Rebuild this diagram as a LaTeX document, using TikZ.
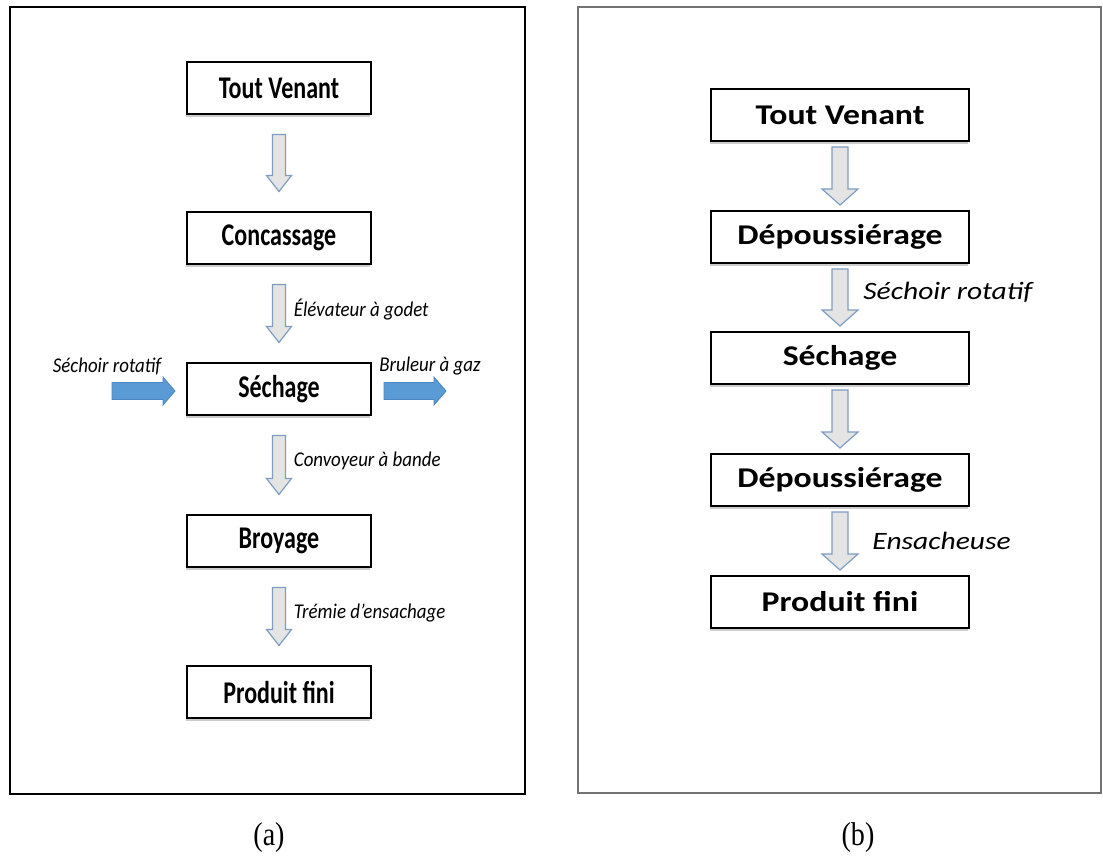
\documentclass[tikz,border=0pt]{standalone}
\usepackage{fontspec}
\setmainfont{Liberation Serif}
\newfontfamily\narrowcal[FakeStretch=0.76]{Carlito}
\newfontfamily\narrowcalit[FakeStretch=0.9]{Carlito}
\newfontfamily\widecal[FakeStretch=1.18]{Carlito}
\newfontfamily\capserif[FakeStretch=0.85]{Liberation Serif}
\usepackage{tikz}
\usetikzlibrary{calc,shadows}
\usepackage{xcolor}
\definecolor{arrowgray}{HTML}{E4E4E4}
\definecolor{arrowedge}{HTML}{7F9DC1}
\definecolor{sideblue}{HTML}{5B9BD5}
\definecolor{sideedge}{HTML}{4A86C0}

% block arrow from box #1 down to box #2, gap #3, shaft half width #4, head half width #5
\newcommand{\blockdown}[5]{%
  \path ($(#1.south)+(0,#3)$) coordinate (top) ($(#2.north)+(0,-#3)$) coordinate (tip);
  \draw[flow] ($(top)+(-#4,0)$) -- ($(tip)+(-#4,-16)$) -- ($(tip)+(-#5,-16)$) -- (tip)
    -- ($(tip)+(#5,-16)$) -- ($(tip)+(#4,-16)$) -- ($(top)+(#4,0)$) -- cycle;
}
% blue arrow from #1 to #2 (horizontal)
\newcommand{\blockright}[2]{%
  \draw[side] ($(#1)+(0,-8.5)$) -- ($(#2)+(-12,-8.5)$) -- ($(#2)+(-12,-14)$) -- (#2)
    -- ($(#2)+(-12,14)$) -- ($(#2)+(-12,8.5)$) -- ($(#1)+(0,8.5)$) -- cycle;
}

\begin{document}
\begin{tikzpicture}[x=0.5pt,y=-0.5pt,
    boxL/.style={draw, line width=1pt, fill=white, minimum width=92pt, minimum height=26pt,
      inner sep=0pt, font=\narrowcal\bfseries\fontsize{15.8}{18}\selectfont,
      drop shadow={shadow xshift=-0.6pt, shadow yshift=-1.3pt, opacity=0.4}},
    boxR/.style={boxL, minimum width=129pt, font=\widecal\bfseries\fontsize{14.3}{16}\selectfont},
    labL/.style={anchor=west, inner sep=0pt, font=\narrowcalit\itshape\fontsize{10.5}{12}\selectfont},
    labR/.style={anchor=west, inner sep=0pt, font=\widecal\itshape\fontsize{12.5}{14}\selectfont},
    flow/.style={fill=arrowgray, draw=arrowedge, line width=0.6pt, line join=miter},
    side/.style={fill=sideblue, draw=sideedge, line width=0.4pt},
    caption/.style={font=\capserif\fontsize{16.5}{18}\selectfont, inner sep=0pt}]

    \useasboundingbox[fill=white] (0,0) rectangle (1103,857);

    % panel (a)
    \draw[line width=1pt] (10,7) rectangle (525,794);
    \node[boxL] (tv1) at (279,88) {Tout Venant};
    \node[boxL] at ($(tv1)+(0,150)$) (conc1) {Concassage};
    \node[boxL] at ($(conc1)+(0,151)$) (sech1) {Séchage};
    \node[boxL] at ($(sech1)+(0,152)$) (broy1) {Broyage};
    \node[boxL] at ($(broy1)+(0,151)$) (pf1) {Produit fini};

    \blockdown{tv1}{conc1}{19.5}{6.5}{12.5}
    \blockdown{conc1}{sech1}{19.5}{6.5}{12.5}
    \blockdown{sech1}{broy1}{19.5}{6.5}{12.5}
    \blockdown{broy1}{pf1}{19.5}{6.5}{12.5}

    \node[labL] (elev) at ($(conc1.south)!0.5!(sech1.north)+(14.5,-4)$) {Élévateur à godet};
    \node[labL] (conv) at ($(sech1.south)!0.5!(broy1.north)+(14.5,-4)$) {Convoyeur à bande};
    \node[labL] (trem) at ($(broy1.south)!0.5!(pf1.north)+(14.5,-4)$) {Trémie d’ensachage};

    \coordinate (in1) at (112,391);
    \coordinate (out1) at (446,391);
    \blockright{in1}{$(sech1.west |- in1)+(-11,0)$}
    \blockright{$(sech1.east |- out1)+(12,0)$}{out1}
    \node[labL, anchor=center] (sroT) at (107,366) {Séchoir rotatif};
    \node[labL, anchor=center] (brul) at (430,366) {Bruleur à gaz};

    \node[caption] (capa) at (269,838) {(a)};

    % panel (b)
    \draw[line width=0.8pt, black!55] (578,7) rectangle (1101,793);
    \node[boxR] (tv2) at (840,115) {Tout Venant};
    \node[boxR] at ($(tv2)+(0,122)$) (dep2) {Dépoussiérage};
    \node[boxR] at ($(dep2)+(0,121)$) (sech2) {Séchage};
    \node[boxR] at ($(sech2)+(0,122)$) (dep3) {Dépoussiérage};
    \node[boxR] at ($(dep3)+(0,122)$) (pf2) {Produit fini};

    \blockdown{tv2}{dep2}{5}{8}{18}
    \blockdown{dep2}{sech2}{5}{8}{18}
    \blockdown{sech2}{dep3}{5}{8}{18}
    \blockdown{dep3}{pf2}{5}{8}{18}

    \node[labR] (sroR) at ($(dep2.south)!0.5!(sech2.north)+(23,-5)$) {Séchoir rotatif};
    \node[labR] (ens) at ($(dep3.south)!0.5!(pf2.north)+(32,0)$) {Ensacheuse};

    \node[caption] (capb) at (858,838) {(b)};
\end{tikzpicture}
\end{document}
